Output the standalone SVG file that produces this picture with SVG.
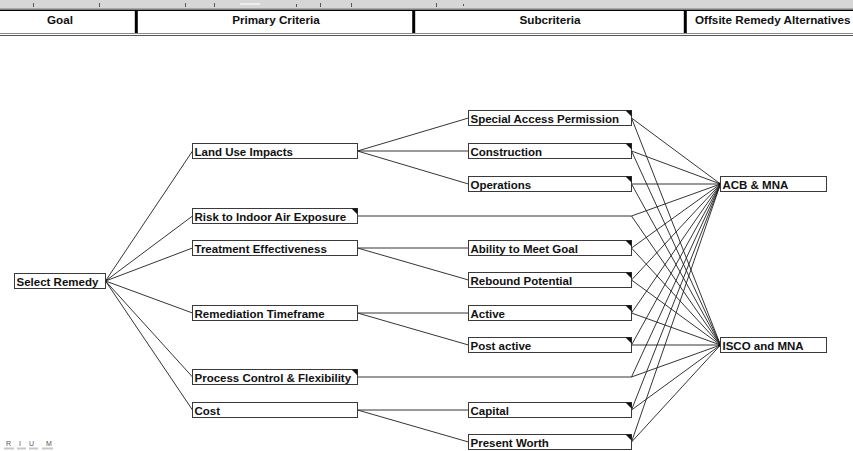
<svg xmlns="http://www.w3.org/2000/svg" width="853" height="451" viewBox="0 0 853 451">
  <style>
    .hdr { font-family: "Liberation Sans", Arial, sans-serif; font-weight: bold; font-size: 11.7px; fill: #111; }
    .lbl { font-family: "Liberation Sans", Arial, sans-serif; font-weight: bold; font-size: 11.5px; fill: #111; }
    .box { fill: #fff; stroke: #3a3a3a; stroke-width: 1; }
    .leaf { fill: #111; }
    .sep { stroke: #000; stroke-width: 3; }
    #connectors line, #connectors polyline { stroke: #1e1e1e; stroke-width: 0.9; fill: none; }
  </style>

  <!-- toolbar strip -->
  <rect x="0" y="0" width="853" height="9" fill="#d6d6d6"/>
  <line x1="0" y1="8.5" x2="853" y2="8.5" stroke="#a8a8a8" stroke-width="1"/>
  <g stroke="#555" stroke-width="1">
    <line x1="33.5" y1="3" x2="33.5" y2="7"/>
    <line x1="99.5" y1="3" x2="99.5" y2="7"/>
    <line x1="185.5" y1="3" x2="185.5" y2="7"/>
    <line x1="214.5" y1="3" x2="214.5" y2="7"/>
    <line x1="296.5" y1="4" x2="296.5" y2="7"/>
    <line x1="320.5" y1="3" x2="320.5" y2="7"/>
    <line x1="351.5" y1="3" x2="351.5" y2="7"/>
    <line x1="436.5" y1="3" x2="436.5" y2="7"/>
    <line x1="463.5" y1="4" x2="463.5" y2="6"/>
  </g>
  <rect x="240" y="3" width="20" height="2" fill="#eee"/>

  <!-- header row -->
  <rect x="0" y="10" width="853" height="23" fill="#fff"/>
  <line x1="0" y1="10.2" x2="853" y2="10.2" stroke="#000" stroke-width="1.6"/>
  <line x1="0" y1="33.5" x2="853" y2="33.5" stroke="#8a8a8a" stroke-width="1"/>
  <line x1="0" y1="35.5" x2="853" y2="35.5" stroke="#555" stroke-width="1"/>
  <line class="sep" x1="136.3" y1="11" x2="136.3" y2="33"/>
  <line class="sep" x1="413.7" y1="11" x2="413.7" y2="33"/>
  <line class="sep" x1="685.3" y1="11" x2="685.3" y2="33"/>
  <text class="hdr" x="60" y="24" text-anchor="middle">Goal</text>
  <text class="hdr" x="276" y="24" text-anchor="middle">Primary Criteria</text>
  <text class="hdr" x="550" y="24" text-anchor="middle">Subcriteria</text>
  <text class="hdr" x="695" y="24">Offsite Remedy Alternatives</text>

  <!-- connectors -->
  <g id="connectors">
    <!-- goal to primary criteria -->
    <line x1="105.5" y1="281" x2="192.5" y2="151"/>
    <line x1="105.5" y1="281" x2="192.5" y2="216"/>
    <line x1="105.5" y1="281" x2="192.5" y2="248"/>
    <line x1="105.5" y1="281" x2="192.5" y2="313"/>
    <line x1="105.5" y1="281" x2="192.5" y2="377"/>
    <line x1="105.5" y1="281" x2="192.5" y2="410"/>
    <!-- primary criteria to subcriteria -->
    <line x1="357.5" y1="151" x2="468.5" y2="118"/>
    <line x1="357.5" y1="151" x2="468.5" y2="151"/>
    <line x1="357.5" y1="151" x2="468.5" y2="184"/>
    <line x1="357.5" y1="248" x2="468.5" y2="248"/>
    <line x1="357.5" y1="248" x2="468.5" y2="280"/>
    <line x1="357.5" y1="313" x2="468.5" y2="313"/>
    <line x1="357.5" y1="313" x2="468.5" y2="345"/>
    <line x1="357.5" y1="410" x2="468.5" y2="410"/>
    <line x1="357.5" y1="410" x2="468.5" y2="442"/>
    <!-- criteria without subcriteria run straight across -->
    <line x1="357.5" y1="216" x2="631.5" y2="216"/>
    <line x1="357.5" y1="377" x2="631.5" y2="377"/>
    <!-- leaves to alternatives -->
    <line x1="631.5" y1="118" x2="720.5" y2="184"/><line x1="631.5" y1="118" x2="720.5" y2="345"/>
    <line x1="631.5" y1="151" x2="720.5" y2="184"/><line x1="631.5" y1="151" x2="720.5" y2="345"/>
    <line x1="631.5" y1="184" x2="720.5" y2="184"/><line x1="631.5" y1="184" x2="720.5" y2="345"/>
    <line x1="631.5" y1="216" x2="720.5" y2="184"/><line x1="631.5" y1="216" x2="720.5" y2="345"/>
    <line x1="631.5" y1="248" x2="720.5" y2="184"/><line x1="631.5" y1="248" x2="720.5" y2="345"/>
    <line x1="631.5" y1="280" x2="720.5" y2="184"/><line x1="631.5" y1="280" x2="720.5" y2="345"/>
    <line x1="631.5" y1="313" x2="720.5" y2="184"/><line x1="631.5" y1="313" x2="720.5" y2="345"/>
    <line x1="631.5" y1="345" x2="720.5" y2="184"/><line x1="631.5" y1="345" x2="720.5" y2="345"/>
    <line x1="631.5" y1="377" x2="720.5" y2="184"/><line x1="631.5" y1="377" x2="720.5" y2="345"/>
    <line x1="631.5" y1="410" x2="720.5" y2="184"/><line x1="631.5" y1="410" x2="720.5" y2="345"/>
    <line x1="631.5" y1="442" x2="720.5" y2="184"/><line x1="631.5" y1="442" x2="720.5" y2="345"/>
    <circle cx="720" cy="184" r="1.6" fill="#000"/>
    <circle cx="720" cy="345" r="1.6" fill="#000"/>
  </g>

  <!-- goal -->
  <g id="select-remedy">
    <rect class="box" x="14.5" y="273.5" width="91" height="15"/>
    <text class="lbl" x="16.5" y="285.5">Select Remedy</text>
  </g>

  <!-- primary criteria -->
  <g id="land-use-impacts">
    <rect class="box" x="192.5" y="143.5" width="165" height="15"/>
    <text class="lbl" x="194.5" y="155.5">Land Use Impacts</text>
  </g>
  <g id="risk-indoor-air">
    <rect class="box" x="192.5" y="208.5" width="165" height="15"/>
    <path class="leaf" d="M351.5 208.5 H357.5 V214.5 Z"/>
    <text class="lbl" x="194.5" y="220.5">Risk to Indoor Air Exposure</text>
  </g>
  <g id="treatment-effectiveness">
    <rect class="box" x="192.5" y="240.5" width="165" height="15"/>
    <text class="lbl" x="194.5" y="252.5">Treatment Effectiveness</text>
  </g>
  <g id="remediation-timeframe">
    <rect class="box" x="192.5" y="305.5" width="165" height="15"/>
    <text class="lbl" x="194.5" y="317.5">Remediation Timeframe</text>
  </g>
  <g id="process-control">
    <rect class="box" x="192.5" y="369.5" width="165" height="15"/>
    <path class="leaf" d="M351.5 369.5 H357.5 V375.5 Z"/>
    <text class="lbl" x="194.5" y="381.5">Process Control &amp; Flexibility</text>
  </g>
  <g id="cost">
    <rect class="box" x="192.5" y="402.5" width="165" height="15"/>
    <text class="lbl" x="194.5" y="414.5">Cost</text>
  </g>

  <!-- subcriteria -->
  <g id="special-access">
    <rect class="box" x="468.5" y="110.5" width="163" height="15"/>
    <path class="leaf" d="M625.5 110.5 H631.5 V116.5 Z"/>
    <text class="lbl" x="470.5" y="122.5">Special Access Permission</text>
  </g>
  <g id="construction">
    <rect class="box" x="468.5" y="143.5" width="163" height="15"/>
    <path class="leaf" d="M625.5 143.5 H631.5 V149.5 Z"/>
    <text class="lbl" x="470.5" y="155.5">Construction</text>
  </g>
  <g id="operations">
    <rect class="box" x="468.5" y="176.5" width="163" height="15"/>
    <path class="leaf" d="M625.5 176.5 H631.5 V182.5 Z"/>
    <text class="lbl" x="470.5" y="188.5">Operations</text>
  </g>
  <g id="ability-to-meet-goal">
    <rect class="box" x="468.5" y="240.5" width="163" height="15"/>
    <path class="leaf" d="M625.5 240.5 H631.5 V246.5 Z"/>
    <text class="lbl" x="470.5" y="252.5">Ability to Meet Goal</text>
  </g>
  <g id="rebound-potential">
    <rect class="box" x="468.5" y="272.5" width="163" height="15"/>
    <path class="leaf" d="M625.5 272.5 H631.5 V278.5 Z"/>
    <text class="lbl" x="470.5" y="284.5">Rebound Potential</text>
  </g>
  <g id="active">
    <rect class="box" x="468.5" y="305.5" width="163" height="15"/>
    <path class="leaf" d="M625.5 305.5 H631.5 V311.5 Z"/>
    <text class="lbl" x="470.5" y="317.5">Active</text>
  </g>
  <g id="post-active">
    <rect class="box" x="468.5" y="337.5" width="163" height="15"/>
    <path class="leaf" d="M625.5 337.5 H631.5 V343.5 Z"/>
    <text class="lbl" x="470.5" y="349.5">Post active</text>
  </g>
  <g id="capital">
    <rect class="box" x="468.5" y="402.5" width="163" height="15"/>
    <path class="leaf" d="M625.5 402.5 H631.5 V408.5 Z"/>
    <text class="lbl" x="470.5" y="414.5">Capital</text>
  </g>
  <g id="present-worth">
    <rect class="box" x="468.5" y="434.5" width="163" height="15"/>
    <path class="leaf" d="M625.5 434.5 H631.5 V440.5 Z"/>
    <text class="lbl" x="470.5" y="446.5">Present Worth</text>
  </g>

  <!-- alternatives -->
  <g id="acb-mna">
    <rect class="box" x="720.5" y="176.5" width="106" height="15"/>
    <text class="lbl" x="722.5" y="188.5">ACB &amp; MNA</text>
  </g>
  <g id="isco-mna">
    <rect class="box" x="720.5" y="337.5" width="106" height="15"/>
    <text class="lbl" x="722.5" y="349.5">ISCO and MNA</text>
  </g>

  <!-- logo remnant, lower left -->
  <text x="6 12 19 24 29 38 46" y="445.5" font-family="'Liberation Sans', Arial, sans-serif" font-size="7" fill="#555">R I U M</text>
  <g fill="#c8c8c8">
    <rect x="4" y="447.5" width="10" height="2"/>
    <rect x="17" y="447.5" width="9" height="2"/>
    <rect x="29" y="447.5" width="9" height="2"/>
    <rect x="42" y="447.5" width="11" height="2"/>
  </g>
</svg>
